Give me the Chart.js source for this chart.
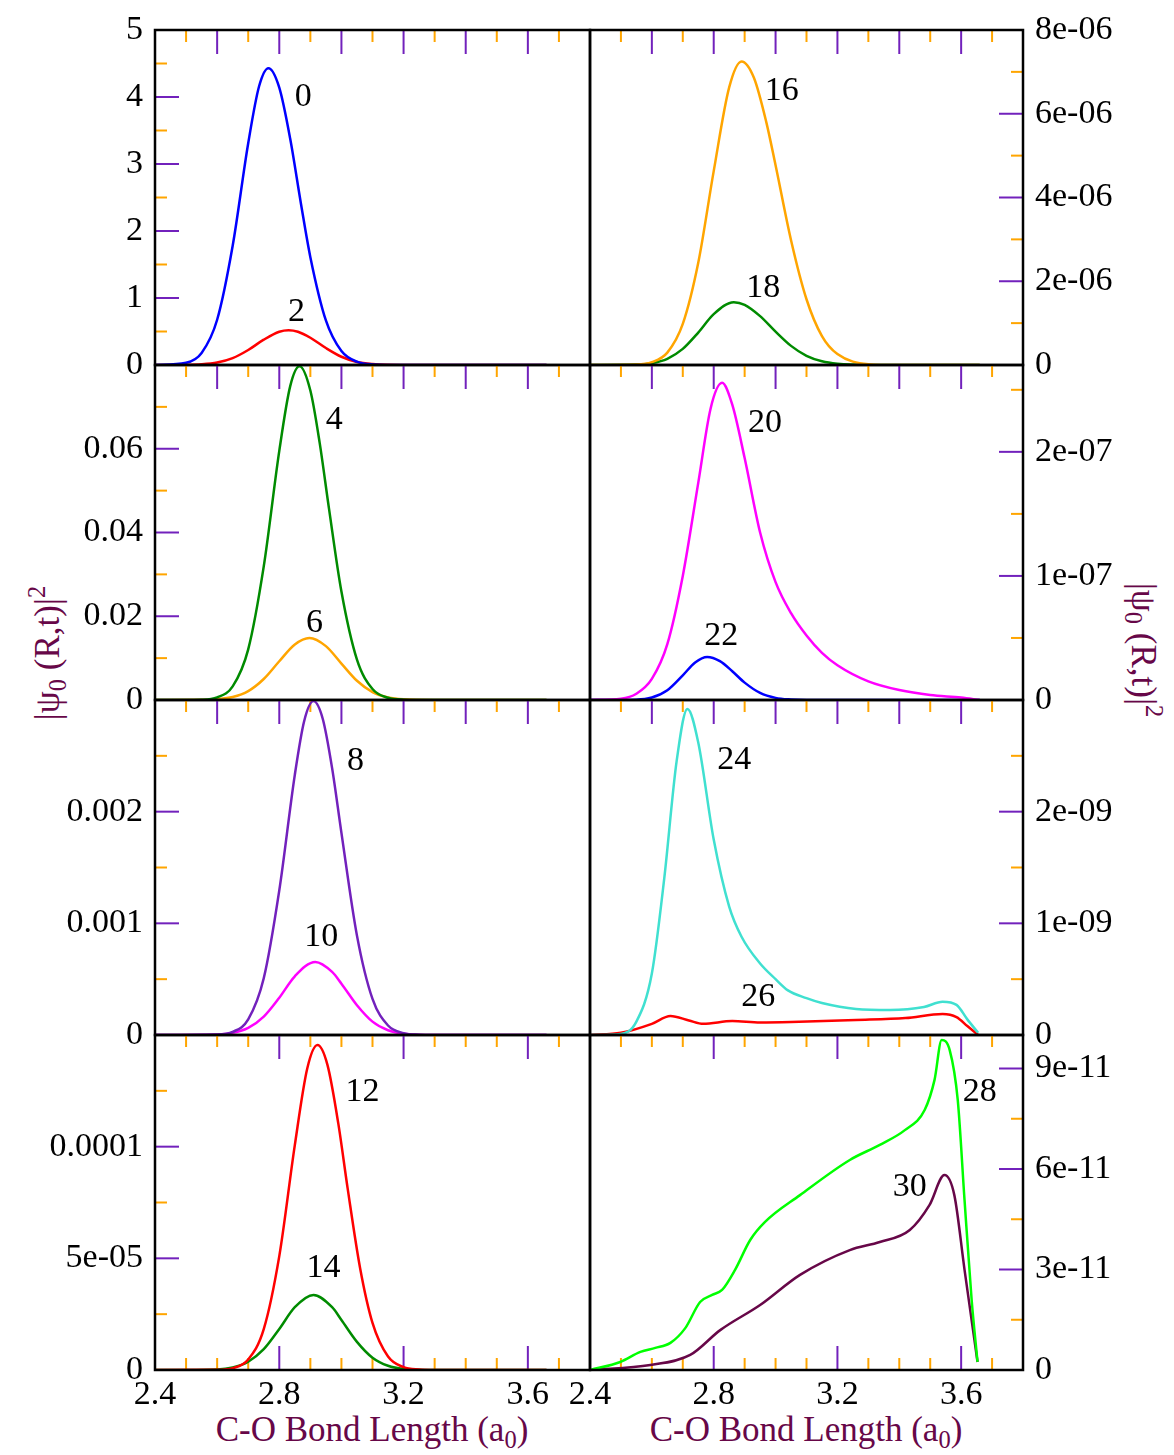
<!DOCTYPE html>
<html>
<head>
<meta charset="utf-8">
<script src="https://cdn.jsdelivr.net/npm/chart.js@4.4.0/dist/chart.umd.min.js"></script>
<style>
  body { margin: 0; background: #fff; width: 1174px; height: 1455px; position: relative; overflow: hidden; }
  canvas { position: absolute; }
  .title { position: absolute; color: #670748; font-family: 'Liberation Serif', serif; font-size: 35px; line-height: 1; white-space: nowrap; }
  .title sub { font-size: 0.7em; vertical-align: -0.3em; }
  .title sup { font-size: 0.7em; vertical-align: 0.55em; }
</style>
</head>
<body>
<div class="title" style="left:372px;top:1432px;transform:translate(-50%,-50%)">C-O Bond Length (a<sub>0</sub>)</div>
<div class="title" style="left:806px;top:1432px;transform:translate(-50%,-50%)">C-O Bond Length (a<sub>0</sub>)</div>
<div class="title" style="left:48px;top:653px;transform:translate(-50%,-50%) rotate(-90deg)">|&psi;<sub>0</sub> (R,t)|<sup>2</sup></div>
<div class="title" style="left:1143px;top:650px;transform:translate(-50%,-50%) rotate(90deg)">|&psi;<sub>0</sub> (R,t)|<sup>2</sup></div>
<script>
// x ticks shared by every panel
const xTicks = [2.4, 2.8, 3.2, 3.6];
const xTickLabels = ['2.4', '2.8', '3.2', '3.6'];

// step 0 / step 2
const x0 = [2.4, 2.5, 2.55, 2.6, 2.65, 2.7, 2.735, 2.765, 2.8, 2.835, 2.87, 2.9, 2.95, 3.0, 3.05, 3.1, 3.2, 3.66];
const y0 = [0, 0.034, 0.18, 0.675, 1.78, 3.31, 4.16, 4.43, 4.14, 3.38, 2.40, 1.61, 0.665, 0.208, 0.049, 0.009, 0, 0];
const x2 = [2.4, 2.5, 2.55, 2.6, 2.65, 2.7, 2.75, 2.8, 2.83, 2.86, 2.9, 2.95, 3.0, 3.05, 3.1, 3.15, 3.25, 3.66];
const y2 = [0, 0.002, 0.010, 0.037, 0.103, 0.224, 0.378, 0.497, 0.52, 0.497, 0.407, 0.253, 0.123, 0.046, 0.014, 0.003, 0, 0];

// step 16 / step 18
const x16 = [2.4, 2.55, 2.6, 2.65, 2.7, 2.75, 2.8, 2.85, 2.89, 2.93, 2.97, 3.0, 3.05, 3.1, 3.15, 3.2, 3.3, 3.4, 3.66];
const y16 = [0, 1.2e-8, 6.9e-8, 2.96e-7, 9.8e-7, 2.44e-6, 4.63e-6, 6.63e-6, 7.25e-6, 6.86e-6, 5.8e-6, 4.77e-6, 2.98e-6, 1.57e-6, 6.9e-7, 2.6e-7, 2.1e-8, 0, 0];
const x18 = [2.4, 2.55, 2.6, 2.65, 2.7, 2.75, 2.8, 2.865, 2.9, 2.95, 3.0, 3.05, 3.1, 3.15, 3.2, 3.3, 3.4, 3.66];
const y18 = [0, 1.05e-8, 4.5e-8, 1.49e-7, 3.85e-7, 7.74e-7, 1.215e-6, 1.5e-6, 1.437e-6, 1.167e-6, 7.97e-7, 4.57e-7, 2.2e-7, 8.9e-8, 3.1e-8, 2e-9, 0, 0];

// step 4 / step 6
const x4 = [2.4, 2.55, 2.6, 2.65, 2.7, 2.75, 2.8, 2.835, 2.865, 2.9, 2.93, 2.96, 3.0, 3.05, 3.1, 3.15, 3.2, 3.3, 3.66];
const y4 = [0, 0.00008, 0.00061, 0.00325, 0.0121, 0.0319, 0.0595, 0.0749, 0.0797, 0.0739, 0.0614, 0.0457, 0.0259, 0.00964, 0.00263, 0.00053, 0.00008, 0, 0];
const x6 = [2.4, 2.55, 2.6, 2.65, 2.7, 2.75, 2.8, 2.85, 2.897, 2.95, 3.0, 3.05, 3.1, 3.15, 3.2, 3.3, 3.66];
const y6 = [0, 0.000036, 0.00018, 0.0007, 0.00213, 0.00502, 0.00925, 0.01325, 0.0148, 0.01286, 0.0087, 0.00459, 0.00188, 0.0006, 0.00015, 0, 0];

// step 20 / step 22
const x20 = [2.4, 2.5, 2.55, 2.6, 2.65, 2.7, 2.75, 2.79, 2.827, 2.86, 2.9, 2.95, 3.0, 3.05, 3.1, 3.15, 3.2, 3.3, 3.4, 3.5, 3.6, 3.66];
const y20 = [0, 1e-9, 5e-9, 1.7e-8, 4.5e-8, 1.0e-7, 1.75e-7, 2.35e-7, 2.556e-7, 2.38e-7, 1.95e-7, 1.35e-7, 9.5e-8, 7.0e-8, 5.2e-8, 3.8e-8, 2.8e-8, 1.5e-8, 8e-9, 4e-9, 2e-9, 0];
const x22 = [2.4, 2.55, 2.6, 2.65, 2.7, 2.74, 2.779, 2.82, 2.86, 2.9, 2.95, 3.0, 3.05, 3.1, 3.66];
const y22 = [0, 3e-10, 2e-9, 7.9e-9, 1.99e-8, 3.03e-8, 3.47e-8, 3.13e-8, 2.32e-8, 1.4e-8, 5.7e-9, 1.7e-9, 4e-10, 0, 0];

// step 8 / step 10
const x8 = [2.4, 2.6, 2.65, 2.7, 2.75, 2.8, 2.85, 2.88, 2.91, 2.94, 2.97, 3.0, 3.05, 3.1, 3.15, 3.2, 3.25, 3.3, 3.66];
const y8 = [0, 0.000004, 0.000028, 0.00014, 0.000508, 0.001295, 0.00233, 0.00281, 0.00299, 0.00283, 0.00239, 0.00181, 0.00089, 0.000323, 0.000085, 0.0000167, 0.0000024, 0, 0];
const x10 = [2.4, 2.6, 2.65, 2.7, 2.75, 2.8, 2.85, 2.916, 2.97, 3.0, 3.05, 3.1, 3.15, 3.2, 3.3, 3.66];
const y10 = [0, 0.0000044, 0.000019, 0.0000635, 0.000165, 0.000334, 0.000526, 0.000654, 0.000565, 0.00046, 0.000267, 0.00012, 0.0000423, 0.0000116, 0.0000004, 0];

// step 24 / step 26
const x24 = [2.4, 2.5, 2.55, 2.6, 2.64, 2.68, 2.715, 2.75, 2.8, 2.85, 2.89, 2.95, 3.0, 3.04, 3.1, 3.15, 3.26, 3.37, 3.48, 3.54, 3.585, 3.62, 3.655];
const y24 = [0, 1e-11, 1.2e-10, 5.5e-10, 1.4e-9, 2.45e-9, 2.92e-9, 2.62e-9, 1.75e-9, 1.15e-9, 8.8e-10, 6.4e-10, 5.0e-10, 4.0e-10, 3.3e-10, 2.86e-10, 2.33e-10, 2.24e-10, 2.51e-10, 2.98e-10, 2.7e-10, 1.4e-10, 2e-11];
const x26 = [2.4, 2.5, 2.6, 2.66, 2.72, 2.766, 2.86, 2.95, 3.05, 3.26, 3.42, 3.54, 3.585, 3.62, 3.655];
const y26 = [0, 2e-11, 1e-10, 1.7e-10, 1.3e-10, 1.0e-10, 1.25e-10, 1.12e-10, 1.16e-10, 1.34e-10, 1.52e-10, 1.88e-10, 1.6e-10, 8e-11, 0];

// step 12 / step 14
const x12 = [2.4, 2.6, 2.65, 2.7, 2.75, 2.8, 2.85, 2.89, 2.923, 2.955, 2.99, 3.02, 3.06, 3.1, 3.15, 3.2, 3.25, 3.3, 3.66];
const y12 = [0, 1.1e-7, 8.3e-7, 4.7e-6, 1.83e-5, 5.1e-5, 1.007e-4, 1.35e-4, 1.455e-4, 1.366e-4, 1.103e-4, 8.13e-5, 4.57e-5, 2.11e-5, 6.05e-6, 1.28e-6, 2e-7, 0, 0];
const x14 = [2.4, 2.6, 2.65, 2.7, 2.75, 2.8, 2.85, 2.91, 2.97, 3.0, 3.05, 3.1, 3.15, 3.2, 3.3, 3.66];
const y14 = [0, 2.8e-7, 1.14e-6, 3.71e-6, 9.3e-6, 1.835e-5, 2.81e-5, 3.36e-5, 2.81e-5, 2.24e-5, 1.26e-5, 5.5e-6, 1.89e-6, 5e-7, 2e-8, 0];

// step 28 / step 30
const x28 = [2.4, 2.498, 2.563, 2.611, 2.66, 2.708, 2.756, 2.795, 2.827, 2.869, 2.918, 2.966, 3.079, 3.24, 3.337, 3.418, 3.482, 3.514, 3.537, 3.563, 3.589, 3.611, 3.634, 3.653];
const y28 = [0, 2.4e-12, 5.4e-12, 6.6e-12, 8.1e-12, 1.25e-11, 2.03e-11, 2.24e-11, 2.39e-11, 2.99e-11, 3.88e-11, 4.42e-11, 5.22e-11, 6.27e-11, 6.72e-11, 7.16e-11, 7.76e-11, 8.66e-11, 9.85e-11, 9.55e-11, 8.06e-11, 5.07e-11, 2.09e-11, 2.4e-12];
const x30 = [2.4, 2.595, 2.724, 2.821, 2.95, 3.079, 3.24, 3.337, 3.434, 3.498, 3.546, 3.578, 3.611, 3.653];
const y30 = [0, 1.5e-12, 4.5e-12, 1.19e-11, 1.94e-11, 2.84e-11, 3.58e-11, 3.82e-11, 4.18e-11, 4.93e-11, 5.82e-11, 5.22e-11, 2.99e-11, 2.4e-12];

// y axes: max, major step, tick values and labels
const yMax = [[5, 8e-6], [0.08, 2.7e-7], [0.003, 3e-9], [1.5e-4, 1e-10]];
const yStep = [[1, 2e-6], [0.02, 1e-7], [0.001, 1e-9], [5e-5, 3e-11]];
const yTicks = [
  [[0, 1, 2, 3, 4, 5], [0, 2e-6, 4e-6, 6e-6, 8e-6]],
  [[0, 0.02, 0.04, 0.06], [0, 1e-7, 2e-7]],
  [[0, 0.001, 0.002], [0, 1e-9, 2e-9]],
  [[0, 5e-5, 1e-4], [0, 3e-11, 6e-11, 9e-11]]
];
const yTickLabels = [
  [['0', '1', '2', '3', '4', '5'], ['0', '2e-06', '4e-06', '6e-06', '8e-06']],
  [['0', '0.02', '0.04', '0.06'], ['0', '1e-07', '2e-07']],
  [['0', '0.001', '0.002'], ['0', '1e-09', '2e-09']],
  [['0', '5e-05', '0.0001'], ['0', '3e-11', '6e-11', '9e-11']]
];

const BLUE = '#0000ff', RED = '#ff0000', GREEN4 = '#008b00', ORANGE = '#ffa500',
      INDIGO = '#7221bc', MAGENTA = '#ff00ff', TURQ = '#40e0d0', GREEN = '#00ff00', MAROON = '#670748';

// panels [row][col]
const panels = [
  [
    { series: [[x0, y0, BLUE], [x2, y2, RED]], notes: [['0', 2.877, 4.0], ['2', 2.855, 0.79]] },
    { series: [[x16, y16, ORANGE], [x18, y18, GREEN4]], notes: [['16', 3.02, 6.54e-6], ['18', 2.96, 1.84e-6]] }
  ],
  [
    { series: [[x4, y4, GREEN4], [x6, y6, ORANGE]], notes: [['4', 2.977, 0.0669], ['6', 2.913, 0.0184]] },
    { series: [[x20, y20, MAGENTA], [x22, y22, BLUE]], notes: [['20', 2.966, 2.23e-7], ['22', 2.824, 5.16e-8]] }
  ],
  [
    { series: [[x8, y8, INDIGO], [x10, y10, MAGENTA]], notes: [['8', 3.045, 0.00245], ['10', 2.935, 0.00088]] },
    { series: [[x24, y24, TURQ], [x26, y26, RED]], notes: [['24', 2.866, 2.46e-9], ['26', 2.944, 3.4e-10]] }
  ],
  [
    { series: [[x12, y12, RED], [x14, y14, GREEN4]], notes: [['12', 3.068, 1.245e-4], ['14', 2.942, 4.57e-5]] },
    { series: [[x28, y28, GREEN], [x30, y30, MAROON]], notes: [['28', 3.66, 8.3e-11], ['30', 3.434, 5.46e-11]] }
  ]
];

const rowTops = [30, 365, 700, 1035];
const PAD = 40;
const FONT = { family: "'Liberation Serif', serif", size: 34 };

function decor(row, col) {
  const max = yMax[row][col], step = yStep[row][col];
  const topEvery = row === 3 ? 4 : 2;
  const notes = panels[row][col].notes;
  const line = (ctx, x1, y1, x2, y2, major) => {
    ctx.strokeStyle = major ? INDIGO : ORANGE;
    ctx.beginPath(); ctx.moveTo(x1, y1); ctx.lineTo(x2, y2); ctx.stroke();
  };
  return {
    id: 'decor',
    beforeDatasetsDraw(chart) {
      const { ctx, chartArea: a, scales: { x, y } } = chart;
      ctx.save();
      ctx.lineWidth = 2;
      for (let i = 1; i < 14; i++) {
        const px = x.getPixelForValue(2.4 + i * 0.1);
        const major = i % topEvery === 0;
        line(ctx, px, a.top, px, a.top + (major ? 24 : 12), major);
        if (row === 3) {
          const m = i % 4 === 0;
          line(ctx, px, a.bottom, px, a.bottom - (m ? 24 : 12), m);
        }
      }
      for (let k = 1; k * step / 2 < max * 0.999; k++) {
        const py = y.getPixelForValue(k * step / 2);
        const major = k % 2 === 0;
        const len = major ? 24 : 12;
        if (col === 0) line(ctx, a.left, py, a.left + len, py, major);
        else line(ctx, a.right, py, a.right - len, py, major);
      }
      ctx.restore();
    },
    afterDatasetsDraw(chart) {
      const { ctx, chartArea: a, scales: { x, y } } = chart;
      ctx.save();
      ctx.strokeStyle = '#000';
      ctx.lineWidth = 2.5;
      ctx.strokeRect(a.left, a.top, a.right - a.left, a.bottom - a.top);
      ctx.fillStyle = '#000';
      ctx.font = "34px 'Liberation Serif', serif";
      ctx.textAlign = 'center';
      ctx.textBaseline = 'middle';
      notes.forEach(([t, nx, ny]) => ctx.fillText(t, x.getPixelForValue(nx), y.getPixelForValue(ny)));
      ctx.restore();
    }
  };
}

function makePanel(row, col) {
  const p = panels[row][col];
  const canvas = document.createElement('canvas');
  const left = col === 0 ? 0 : 540;
  const width = col === 0 ? 600 : 634;
  const bottomRow = row === 3;
  const height = PAD + 335 + (bottomRow ? 80 : PAD);
  canvas.width = width;
  canvas.height = height;
  canvas.style.left = left + 'px';
  canvas.style.top = (rowTops[row] - PAD) + 'px';
  document.body.appendChild(canvas);

  new Chart(canvas, {
    type: 'line',
    data: {
      datasets: p.series.map(([xs, ys, color]) => ({
        data: xs.map((v, i) => ({ x: v, y: ys[i] })),
        borderColor: color,
        borderWidth: 2.5,
        pointRadius: 0,
        fill: false,
        cubicInterpolationMode: 'monotone'
      }))
    },
    options: {
      responsive: false,
      animation: false,
      devicePixelRatio: 1,
      layout: { padding: { left: col === 0 ? 0 : 50, right: col === 0 ? 10 : 0, top: PAD, bottom: bottomRow ? 0 : PAD } },
      plugins: { legend: { display: false }, tooltip: { enabled: false } },
      scales: {
        x: {
          type: 'linear', min: 2.4, max: 3.8,
          display: bottomRow,
          grid: { display: false, drawTicks: false },
          border: { display: false },
          afterBuildTicks: s => { s.ticks = xTicks.map(v => ({ value: v })); },
          afterFit: s => { s.height = bottomRow ? 80 : 0; },
          ticks: {
            autoSkip: false, maxRotation: 0, padding: 5, color: '#000', font: FONT,
            callback: (v, i) => xTickLabels[i]
          }
        },
        y: {
          type: 'linear', min: 0, max: yMax[row][col],
          position: col === 0 ? 'left' : 'right',
          grid: { display: false, drawTicks: false },
          border: { display: false },
          afterBuildTicks: s => { s.ticks = yTicks[row][col].map(v => ({ value: v })); },
          afterFit: s => { s.width = col === 0 ? 155 : 151; },
          ticks: {
            autoSkip: false, padding: 12, color: '#000', font: FONT,
            callback: (v, i) => yTickLabels[row][col][i]
          }
        }
      }
    },
    plugins: [decor(row, col)]
  });
}

for (let r = 0; r < 4; r++) {
  makePanel(r, 0);
  makePanel(r, 1);
}
</script>
</body>
</html>
